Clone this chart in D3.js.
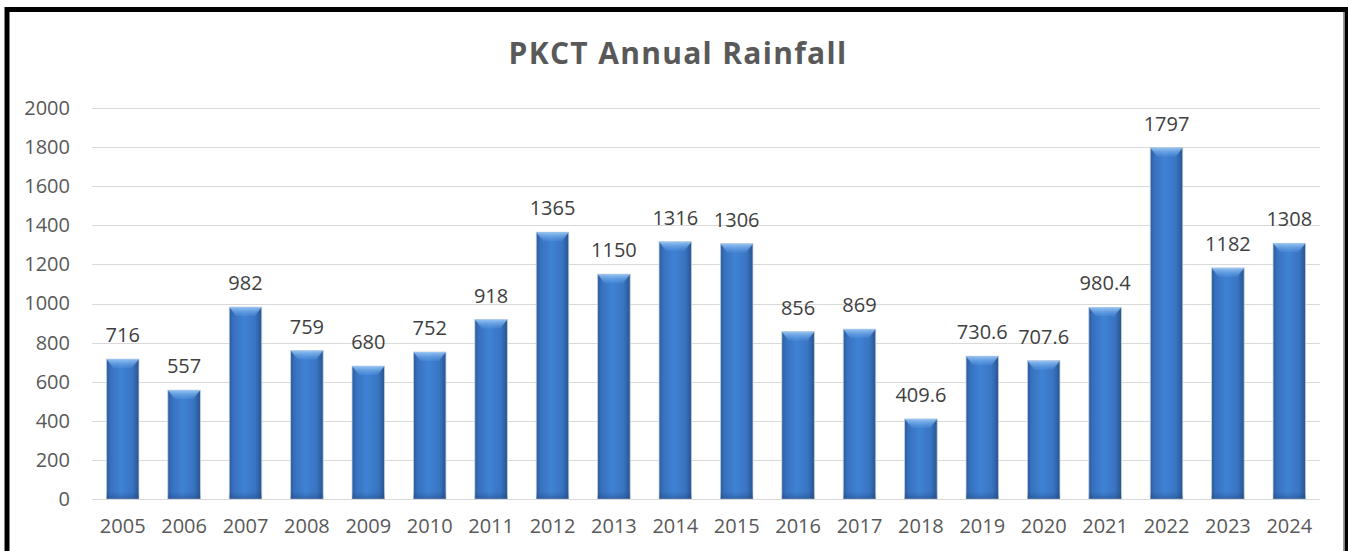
<!DOCTYPE html>
<html>
<head>
<meta charset="utf-8">
<script src="https://cdn.jsdelivr.net/npm/d3@7"></script>
<style>
    html, body { margin: 0; padding: 0; background: #fff; }
    svg { display: block; }
</style>
</head>
<body>
<svg id="chart" width="1348" height="551"></svg>
<script>
'use strict';

// rainfall per year
const years = ['2005', '2006', '2007', '2008', '2009', '2010', '2011', '2012', '2013', '2014',
    '2015', '2016', '2017', '2018', '2019', '2020', '2021', '2022', '2023', '2024'];
const rainfall = [716, 557, 982, 759, 680, 752, 918, 1365, 1150, 1316,
    1306, 856, 869, 409.6, 730.6, 707.6, 980.4, 1797, 1182, 1308];
const yTicks = [0, 200, 400, 600, 800, 1000, 1200, 1400, 1600, 1800, 2000];
const title = 'PKCT Annual Rainfall';

let width = 1348;
let height = 551;
let font = '"Open Sans", "Liberation Sans", sans-serif';

let svg = d3.select('#chart');

let data = years.map(function(y, i) {
    return {year: y, value: rainfall[i]};
});

let x = d3.scaleBand()
    .domain(years)
    .range([92, 1320])
    .paddingInner(0.47)
    .paddingOuter(0.235);

let y = d3.scaleLinear()
    .domain([0, 2000])
    .range([499, 108]);

// gradients for the cylinder-ish bar look
let defs = svg.append('defs');

let side = defs.append('linearGradient')
    .attr('id', 'barSide')
    .attr('x1', '0').attr('x2', '1')
    .attr('y1', '0').attr('y2', '0');
side.append('stop').attr('offset', '0%').attr('stop-color', '#2a5b9c');
side.append('stop').attr('offset', '12%').attr('stop-color', '#3770bd');
side.append('stop').attr('offset', '45%').attr('stop-color', '#3f82d4');
side.append('stop').attr('offset', '80%').attr('stop-color', '#3974c2');
side.append('stop').attr('offset', '100%').attr('stop-color', '#27558f');

let cap = defs.append('linearGradient')
    .attr('id', 'barCap')
    .attr('x1', '0').attr('x2', '0')
    .attr('y1', '0').attr('y2', '1');
cap.append('stop').attr('offset', '0%').attr('stop-color', '#9cc9f6').attr('stop-opacity', 0.95);
cap.append('stop').attr('offset', '100%').attr('stop-color', '#5e9de6').attr('stop-opacity', 0.25);

let base = defs.append('linearGradient')
    .attr('id', 'barBase')
    .attr('x1', '0').attr('x2', '0')
    .attr('y1', '0').attr('y2', '1');
base.append('stop').attr('offset', '0%').attr('stop-color', '#1e4478').attr('stop-opacity', 0);
base.append('stop').attr('offset', '100%').attr('stop-color', '#1e4478').attr('stop-opacity', 0.45);

// frame
svg.append('rect')
    .attr('x', 7)
    .attr('y', 9.5)
    .attr('width', 1340)
    .attr('height', 600)
    .attr('fill', 'none')
    .attr('stroke', '#000')
    .attr('stroke-width', 5);

svg.append('line')
    .attr('x1', 1343.5).attr('x2', 1343.5)
    .attr('y1', 12).attr('y2', height)
    .attr('stroke', '#9a9a9a')
    .attr('stroke-width', 1);

// title
svg.append('text')
    .attr('x', 678)
    .attr('y', 64)
    .attr('text-anchor', 'middle')
    .style('font-family', font)
    .style('font-weight', 'bold')
    .style('font-size', '30px')
    .style('letter-spacing', '1.3px')
    .attr('fill', '#595959')
    .text(title);

// gridlines + y labels
let yAxis = d3.axisLeft(y)
    .tickValues(yTicks)
    .tickSize(-(1320 - 92))
    .tickPadding(22)
    .tickFormat(d3.format('d'));

let gy = svg.append('g')
    .attr('transform', 'translate(92,0)')
    .call(yAxis);

gy.select('.domain').remove();
gy.selectAll('.tick line')
    .attr('stroke', '#d9d9d9')
    .attr('stroke-width', 1)
    .attr('shape-rendering', 'crispEdges');
gy.selectAll('.tick text')
    .style('font-family', font)
    .style('font-size', '20px')
    .attr('fill', '#595959');

// x labels
let xAxis = d3.axisBottom(x)
    .tickSize(0)
    .tickPadding(20);

let gx = svg.append('g')
    .attr('transform', 'translate(0,499)')
    .call(xAxis);

gx.select('.domain').remove();
gx.selectAll('.tick text')
    .style('font-family', font)
    .style('font-size', '20px')
    .attr('fill', '#595959');

// bars
let bar = svg.selectAll('.bar')
    .data(data)
    .enter().append('g')
    .attr('class', 'bar');

bar.append('rect')
    .attr('x', function(d) {
        return x(d.year);
    })
    .attr('y', function(d) {
        return y(d.value);
    })
    .attr('width', x.bandwidth())
    .attr('height', function(d) {
        return y(0) - y(d.value);
    })
    .attr('fill', 'url(#barSide)')
    .attr('stroke', '#c7cfd9')
    .attr('stroke-width', 0.8);

bar.append('path')
    .attr('d', function(d) {
        let x0 = x(d.year);
        let x1 = x0 + x.bandwidth();
        let t = y(d.value);
        return 'M' + x0 + ',' + t + 'L' + x1 + ',' + t +
            'L' + (x1 - 7) + ',' + (t + 9) + 'L' + (x0 + 7) + ',' + (t + 9) + 'Z';
    })
    .attr('fill', 'url(#barCap)');

bar.append('rect')
    .attr('x', function(d) {
        return x(d.year);
    })
    .attr('y', y(0) - 7)
    .attr('width', x.bandwidth())
    .attr('height', 7)
    .attr('fill', 'url(#barBase)');

// value labels
bar.append('text')
    .attr('x', function(d) {
        return x(d.year) + x.bandwidth() / 2;
    })
    .attr('y', function(d) {
        return y(d.value) - 17;
    })
    .attr('text-anchor', 'middle')
    .style('font-family', font)
    .style('font-size', '20px')
    .attr('fill', '#404040')
    .text(function(d) {
        return d.value;
    });
</script>
</body>
</html>
